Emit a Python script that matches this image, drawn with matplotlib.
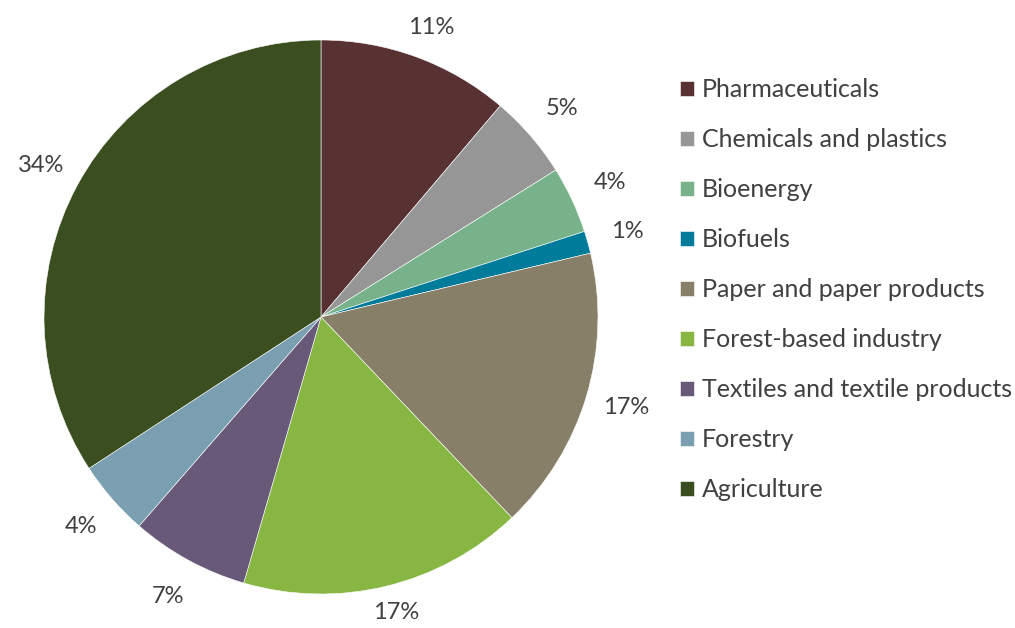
import matplotlib
matplotlib.use("Agg")
import matplotlib.pyplot as plt
import numpy as np

categories = ["Pharmaceuticals", "Chemicals and plastics", "Bioenergy", "Biofuels",
              "Paper and paper products", "Forest-based industry",
              "Textiles and textile products", "Forestry", "Agriculture"]
values = [11.2, 4.9, 3.9, 1.3, 16.6, 16.6, 6.9, 4.4, 34.2]
colors = ["#583133", "#969696", "#77B28A", "#007C9A", "#877F67", "#87B742",
          "#685979", "#7A9FB1", "#3A4E20"]

plt.rcParams['font.family'] = ['Lato', 'DejaVu Sans']
text_color = "#404040"

fig = plt.figure(figsize=(10.15, 6.28), dpi=100)
W, H = 1015, 628
cx, cy, r = 321, 317, 277
ax = fig.add_axes([(cx - r) / W, (H - cy - r) / H, 2 * r / W, 2 * r / H])

wedges, texts, autotexts = ax.pie(values, colors=colors, startangle=90, counterclock=False,
                                  autopct='%.0f%%', pctdistance=1.15,
                                  wedgeprops=dict(linewidth=0.4, edgecolor='white'),
                                  textprops=dict(color=text_color, fontsize=17))
ax.set_xlim(-1, 1)
ax.set_ylim(-1, 1)
ax.set_aspect('equal')

# keep outside-end labels inside the chart area
for t in autotexts:
    x, y = t.get_position()
    t.set_position((x, min(max(y, -1.065), 1.045)))

leg = fig.legend(wedges, categories, loc='upper left',
                 bbox_to_anchor=(680 / W, 1 - 78 / H), frameon=False,
                 fontsize=18, handlelength=0.56, handleheight=0.56,
                 handletextpad=0.32, labelspacing=1.08, labelcolor=text_color,
                 borderaxespad=0, borderpad=0)

fig.savefig("out.png", dpi=100, facecolor='white')
